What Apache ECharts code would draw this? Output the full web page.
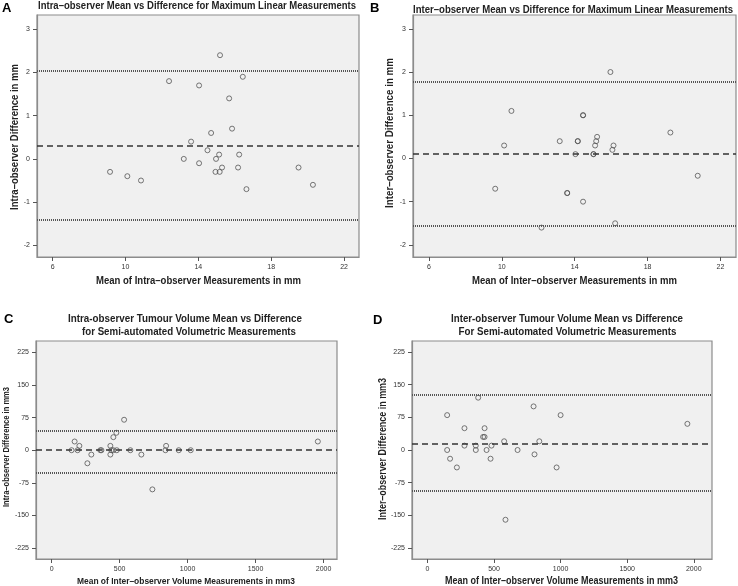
<!DOCTYPE html>
<html>
<head>
<meta charset="utf-8">
<script src="https://cdn.jsdelivr.net/npm/echarts@6/dist/echarts.min.js"></script>
<style>html,body{margin:0;padding:0;background:#fff}#c{width:738px;height:586px}</style>
</head>
<body>
<div id="c"></div>
<script>
// ---- Data ----
const A_mean = [15.19, 12.39, 14.04, 16.44, 15.69, 15.85, 14.70, 13.60, 14.50, 15.14, 16.24, 13.20, 14.97, 14.04, 15.30, 16.18, 14.94, 15.17, 9.15, 10.10, 10.85, 16.64, 19.50, 20.29];
const A_diff = [2.4, 1.8, 1.7, 1.9, 1.4, 0.7, 0.6, 0.4, 0.2, 0.1, 0.1, 0, 0, -0.1, -0.2, -0.2, -0.3, -0.3, -0.3, -0.4, -0.5, -0.7, -0.2, -0.6];
const B_mean = [15.96, 10.53, 14.46, 14.46, 10.13, 13.18, 14.17, 14.17, 15.23, 15.18, 15.12, 16.13, 16.07, 14.04, 15.03, 15.03, 19.25, 20.75, 9.64, 13.59, 13.59, 14.46, 16.22, 12.18];
const B_diff = [2.0, 1.1, 1.0, 1.0, 0.3, 0.4, 0.4, 0.4, 0.5, 0.4, 0.3, 0.3, 0.2, 0.1, 0.1, 0.1, 0.6, -0.4, -0.7, -0.8, -0.8, -1.0, -1.5, -1.6];
const C_mean = [169, 147, 191, 204, 292, 263, 358, 366, 432, 432, 439, 454, 476, 454, 479, 533, 579, 660, 741, 837, 842, 935, 1023, 1958];
const C_diff = [20, 0, 0, 10, -10, -30, 0, 0, 10, -10, 0, 30, 40, 0, 0, 70, 0, -10, -90, 0, 10, 0, 0, 20];
const D_mean = [148, 148, 170, 221, 278, 278, 363, 363, 381, 418, 429, 429, 444, 474, 481, 576, 586, 677, 797, 804, 840, 970, 1000, 1952];
const D_diff = [80, 0, -20, -40, 50, 10, 10, 0, 120, 30, 30, 50, 0, -20, 10, 20, -160, 0, 100, -10, 20, -40, 80, 60];

// limits: [upper LoA, mean difference, lower LoA]
const A_limits = [2.04, 0.31, -1.41];
const B_limits = [1.77, 0.10, -1.56];
const C_limits = [45, 0, -51];
const D_limits = [126, 15, -94];

const linearXTicks = [6, 10, 14, 18, 22];
const linearYTicks = [-2, -1, 0, 1, 2, 3];
const volumeXTicks = [0, 500, 1000, 1500, 2000];
const volumeYTicks = [-225, -150, -75, 0, 75, 150, 225];

const titleLines = [
  ['Intra\u2013observer Mean vs Difference for Maximum Linear Measurements'],
  ['Inter\u2013observer Mean vs Difference for Maximum Linear Measurements'],
  ['Intra-observer Tumour Volume Mean vs Difference', 'for Semi-automated Volumetric Measurements'],
  ['Inter-observer Tumour Volume Mean vs Difference', 'For Semi-automated Volumetric Measurements']
];
const xNames = [
  'Mean of Intra\u2013observer Measurements in mm',
  'Mean of Inter\u2013observer Measurements in mm',
  'Mean of Inter\u2013observer Volume Measurements in mm3',
  'Mean of Inter\u2013observer Volume Measurements in mm3'
];
const yNames = [
  'Intra\u2013observer Difference in mm',
  'Inter\u2013observer Difference in mm',
  'Intra\u2013observer Difference in mm3',
  'Inter\u2013observer Difference in mm3'
];
const letters = ['A', 'B', 'C', 'D'];

// ---- Layout ----
const FONT = "'Liberation Sans', Arial, sans-serif";
const grids = [
  {left: 37, top: 15, width: 322, height: 242},
  {left: 413, top: 15, width: 323, height: 242},
  {left: 36, top: 341, width: 301, height: 218},
  {left: 412, top: 341, width: 300, height: 218}
];
const xRanges = [[5.14, 22.82], [5.13, 22.85], [-115, 2099], [-116, 2137]];
const yRanges = [[-2.27, 3.33], [-2.28, 3.32], [-250, 251], [-250, 250]];
const xTicks = [linearXTicks, linearXTicks, volumeXTicks, volumeXTicks];
const yTicks = [linearYTicks, linearYTicks, volumeYTicks, volumeYTicks];
const means = [A_mean, B_mean, C_mean, D_mean];
const diffs = [A_diff, B_diff, C_diff, D_diff];
const limits = [A_limits, B_limits, C_limits, D_limits];

// text placement: [centerX, centerY, targetWidth]
const titlePlace = [
  [[197, 6.5, 318]],
  [[573, 10, 320]],
  [[185, 319, 234], [189, 332, 214]],
  [[567, 319, 232], [567.5, 332, 218]]
];
const xNamePlace = [[198.5, 281, 205], [574.5, 281, 205], [186, 581.5, 218], [561.5, 581.5, 233]];
const yNamePlace = [[15, 137, 146], [390, 133, 150], [6.5, 447, 120], [383, 449, 142]];
const nameSizes = [10.5, 10.5, 9.5, 10];
const letterPlace = [[2, 2], [370, 2], [4, 313], [373, 314]];

const ctx = document.createElement('canvas').getContext('2d');
function fitScale(text, size, target) {
  ctx.font = 'bold ' + size + 'px ' + FONT;
  return target / ctx.measureText(text).width;
}
function label(text, cx, cy, size, target, rotate) {
  return {
    type: 'text', x: cx, y: cy, rotation: rotate ? Math.PI / 2 : 0,
    scaleX: fitScale(text, size, target), scaleY: 1, silent: true,
    style: {text: text, fill: '#222', font: 'bold ' + size + 'px ' + FONT, align: 'center', verticalAlign: 'middle'}
  };
}

const option = {
  backgroundColor: '#fff',
  animation: false,
  grid: grids.map(g => Object.assign({show: true, backgroundColor: '#f0f0f0', borderColor: '#8c8c8c', borderWidth: 1.2}, g)),
  xAxis: [], yAxis: [], series: [], graphic: []
};

for (let i = 0; i < 4; i++) {
  titleLines[i].forEach((t, k) => {
    const p = titlePlace[i][k];
    option.graphic.push(label(t, p[0], p[1], 10.5, p[2], false));
  });
  option.graphic.push(label(xNames[i], xNamePlace[i][0], xNamePlace[i][1], nameSizes[i], xNamePlace[i][2], false));
  option.graphic.push(label(yNames[i], yNamePlace[i][0], yNamePlace[i][1], nameSizes[i], yNamePlace[i][2], true));
  option.graphic.push({
    type: 'text', x: letterPlace[i][0], y: letterPlace[i][1], silent: true,
    style: {text: letters[i], fill: '#000', font: 'bold 13px ' + FONT}
  });
  option.xAxis.push({
    type: 'value', gridIndex: i, min: xRanges[i][0], max: xRanges[i][1],
    splitLine: {show: false},
    axisLine: {show: true, onZero: false, lineStyle: {color: '#8c8c8c', width: 1.2}},
    axisTick: {show: true, length: 4, inside: false, customValues: xTicks[i], lineStyle: {color: '#555'}},
    axisLabel: {customValues: xTicks[i], margin: 7, fontSize: 7, color: '#333', fontFamily: FONT, formatter: v => String(v)}
  });
  option.yAxis.push({
    type: 'value', gridIndex: i, min: yRanges[i][0], max: yRanges[i][1],
    splitLine: {show: false},
    axisLine: {show: true, onZero: false, lineStyle: {color: '#8c8c8c', width: 1.2}},
    axisTick: {show: true, length: 4, inside: false, customValues: yTicks[i], lineStyle: {color: '#555'}},
    axisLabel: {customValues: yTicks[i], margin: 7, fontSize: 7, color: '#333', fontFamily: FONT, formatter: v => String(v)}
  });
  const pts = means[i].map((m, k) => [m, diffs[i][k]]);
  option.series.push({
    type: 'scatter', xAxisIndex: i, yAxisIndex: i, data: pts,
    symbol: 'circle', symbolSize: 5,
    itemStyle: {color: 'rgba(0,0,0,0)', borderColor: '#555', borderWidth: 1},
    markLine: {
      silent: true, symbol: 'none', label: {show: false}, animation: false,
      data: [
        {yAxis: limits[i][0], lineStyle: {type: [1, 1], width: 2, color: '#555'}},
        {yAxis: limits[i][1], lineStyle: {type: [6, 4], width: 1.6, color: '#333'}},
        {yAxis: limits[i][2], lineStyle: {type: [1, 1], width: 2, color: '#555'}}
      ]
    }
  });
}

const chart = echarts.init(document.getElementById('c'), null, {renderer: 'canvas'});
chart.setOption(option);
</script>
</body>
</html>
